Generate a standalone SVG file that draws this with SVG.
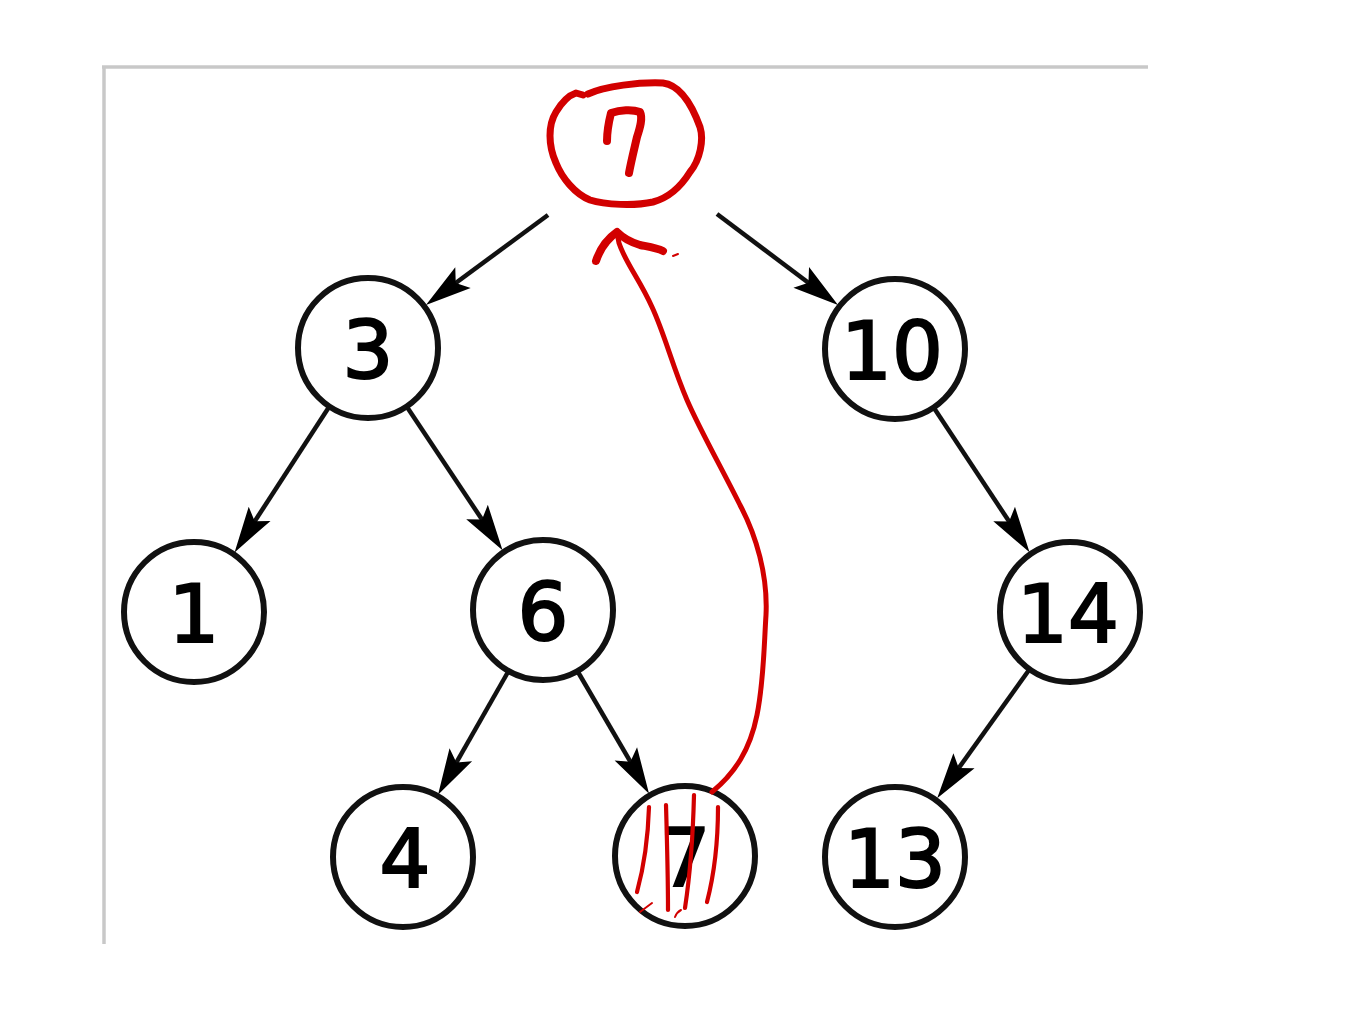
<svg xmlns="http://www.w3.org/2000/svg" width="1354" height="1027" viewBox="0 0 1354 1027">
<style>
.node circle{fill:#fff;stroke:#111;stroke-width:6}
.node text{font-family:"DejaVu Sans","Liberation Sans",sans-serif;font-size:80px;fill:#000;stroke:#000;stroke-width:2.2;text-anchor:middle}
.edge{stroke:#111;stroke-width:4.5;fill:none;marker-end:url(#ah)}
.red{fill:none;stroke:#d20000;stroke-linecap:round;stroke-linejoin:round}
</style>
<defs>
<marker id="ah" markerUnits="userSpaceOnUse" markerWidth="60" markerHeight="40" refX="0" refY="0" viewBox="-40 -20 60 40" orient="auto" overflow="visible">
<path d="M10,0 L-36,-13 L-27,0 L-36,13 Z" fill="#000"/>
</marker>
</defs>
<rect width="1354" height="1027" fill="#fff"/>
<g id="frame" fill="none" stroke="#c8c8c8" stroke-width="3.5">
<line x1="102" y1="67" x2="1148" y2="67"/>
<line x1="104" y1="66" x2="104" y2="944"/>
</g>
<g id="connectors">
<line class="edge" x1="548" y1="215" x2="434" y2="299"/>
<line class="edge" x1="717" y1="214" x2="830" y2="299"/>
<line class="edge" x1="329" y1="407" x2="240" y2="544"/>
<line class="edge" x1="407" y1="407" x2="497" y2="542"/>
<line class="edge" x1="934" y1="408" x2="1024" y2="544"/>
<line class="edge" x1="508" y1="672" x2="443" y2="786"/>
<line class="edge" x1="578" y1="672" x2="644" y2="785"/>
<line class="edge" x1="1029" y1="670" x2="943" y2="790"/>
</g>
<g id="n3" class="node"><circle cx="368" cy="348" r="70"/><text x="368" y="378">3</text></g>
<g id="n10" class="node"><circle cx="895" cy="349" r="70"/><text x="892" y="379">10</text></g>
<g id="n1" class="node"><circle cx="194" cy="612" r="70"/><text x="194" y="642">1</text></g>
<g id="n6" class="node"><circle cx="543" cy="610" r="70"/><text x="543" y="640">6</text></g>
<g id="n14" class="node"><circle cx="1070" cy="612" r="70"/><text x="1068" y="642">14</text></g>
<g id="n4" class="node"><circle cx="403" cy="857" r="70"/><text x="405" y="887">4</text></g>
<g id="n7" class="node"><circle cx="685" cy="856" r="70"/><text x="685" y="886">7</text></g>
<g id="n13" class="node"><circle cx="895" cy="857" r="70"/><text x="895" y="887">13</text></g>
<g id="root-annotation">
<path class="red" stroke-width="7" d="M588,94 C605,86 640,82 663,83 C680,85 692,105 700,127 C704,140 700,160 690,172 C680,188 668,198 653,202 C635,206 605,205 590,200 C575,194 562,178 556,163 C548,145 548,125 556,112 C562,102 570,95 576,93 L583,95"/>
<path class="red" stroke-width="8" d="M607,141 C607,132 609,121 611,113 C620,110 632,109 640,112 C643,118 640,128 637,137 C634,150 631,162 629,173"/>
</g>
<g id="red-arrow">
<path class="red" stroke-width="5" d="M712,792 C735,773 750,750 757,715 C764,680 764,645 766,615 C768,575 756,535 740,505 C720,465 700,430 687,400 C672,365 665,335 652,307 C640,280 625,262 619,243 L617,233"/>
<path class="red" stroke-width="8" d="M596,261 C600,249 607,239 617,232 C623,238 630,242 640,245 C650,247 657,248 663,251"/>
<path class="red" stroke-width="2" d="M673,256 L678,254"/>
</g>
<g id="hatch">
<path class="red" stroke-width="4.2" d="M649,807 C648,840 643,870 637,892"/>
<path class="red" stroke-width="4.2" d="M666,805 C667,840 668,880 668,910"/>
<path class="red" stroke-width="4.2" d="M694,795 C693,835 690,875 685,908"/>
<path class="red" stroke-width="4.2" d="M718,807 C718,840 714,875 707,902"/>
<path class="red" stroke-width="2" d="M640,912 L652,903"/>
<path class="red" stroke-width="2" d="M675,917 Q677,912 681,910"/>
</g>
</svg>
